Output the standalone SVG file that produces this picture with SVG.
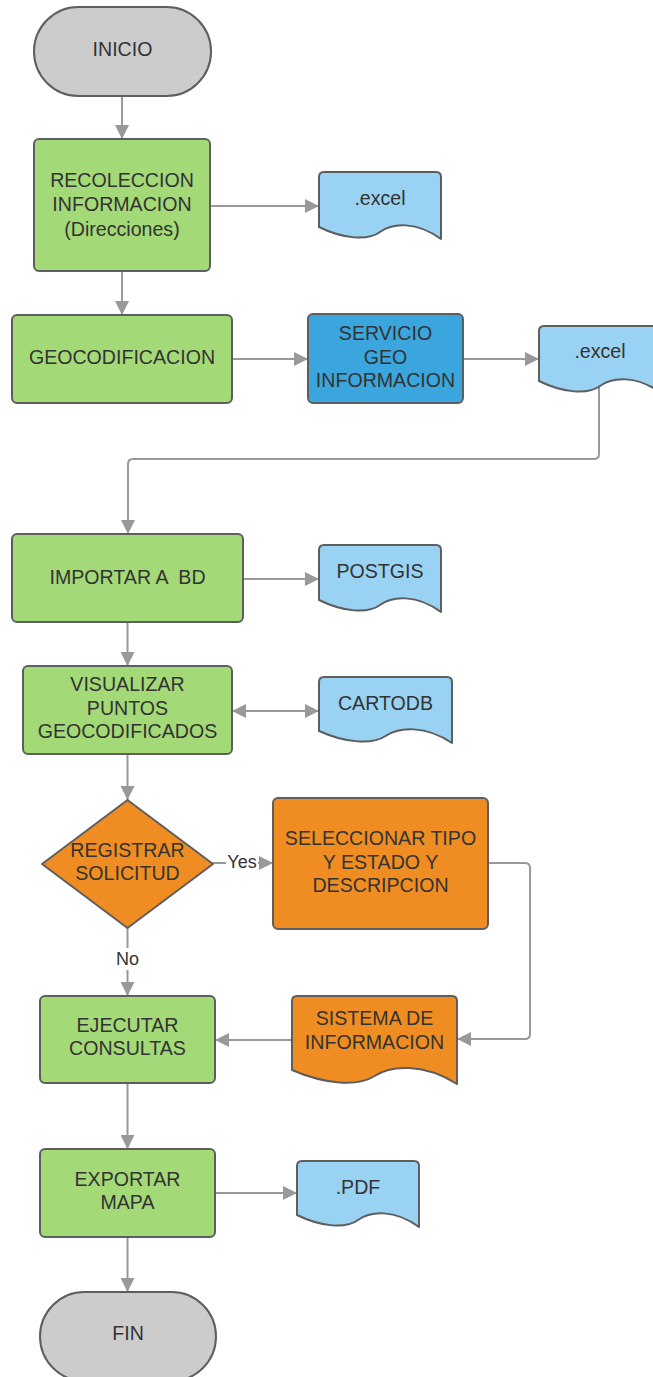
<svg xmlns="http://www.w3.org/2000/svg" width="653" height="1377" viewBox="0 0 653 1377">
  <defs>
    <style>
      .box { stroke: #5e5e5e; stroke-width: 2; stroke-linejoin: round; }
      .green { fill: #a3d977; }
      .grey { fill: #cccccc; }
      .doc { fill: #99d2f2; }
      .blue { fill: #3aa6dd; }
      .orange { fill: #ef8d22; }
      .lbl { font-family: "Liberation Sans", Arial, sans-serif; font-size: 19.6px; fill: #333333; text-anchor: middle; }
      .edge-lbl { font-family: "Liberation Sans", Arial, sans-serif; font-size: 18px; fill: #333333; text-anchor: middle; }
      .wire { fill: none; stroke: #999999; stroke-width: 2; }
    </style>
    <marker id="arrow" markerUnits="userSpaceOnUse" markerWidth="14" markerHeight="14" refX="14" refY="7" orient="auto-start-reverse">
      <path d="M0,0 L14,7 L0,14 Z" fill="#999999"/>
    </marker>
  </defs>

  <rect width="653" height="1377" fill="#ffffff"/>

  <!-- connectors -->
  <g id="connectors">
    <path class="wire" d="M122,96 V139" marker-end="url(#arrow)"/>
    <path class="wire" d="M210,206 H319" marker-end="url(#arrow)"/>
    <path class="wire" d="M122,271 V315" marker-end="url(#arrow)"/>
    <path class="wire" d="M232,359 H308" marker-end="url(#arrow)"/>
    <path class="wire" d="M463,359 H539" marker-end="url(#arrow)"/>
    <path class="wire" d="M599,387 V454 Q599,459 594,459 H133 Q128,459 128,464 V534" marker-end="url(#arrow)"/>
    <path class="wire" d="M243,579 H319" marker-end="url(#arrow)"/>
    <path class="wire" d="M127.5,622 V666" marker-end="url(#arrow)"/>
    <path class="wire" d="M232,711 H319" marker-start="url(#arrow)" marker-end="url(#arrow)"/>
    <path class="wire" d="M127.5,754 V800" marker-end="url(#arrow)"/>
    <path class="wire" d="M213,863 H273" marker-end="url(#arrow)"/>
    <path class="wire" d="M127.5,928 V996" marker-end="url(#arrow)"/>
    <path class="wire" d="M488,863 H525 Q530,863 530,868 V1034 Q530,1039 525,1039 H457" marker-end="url(#arrow)"/>
    <path class="wire" d="M292,1040 H215" marker-end="url(#arrow)"/>
    <path class="wire" d="M127.5,1083 V1149" marker-end="url(#arrow)"/>
    <path class="wire" d="M215,1193 H297" marker-end="url(#arrow)"/>
    <path class="wire" d="M127.5,1237 V1292" marker-end="url(#arrow)"/>
    <!-- edge labels -->
    <rect x="226" y="852" width="32" height="21" fill="#ffffff"/>
    <text class="edge-lbl" x="242" y="868">Yes</text>
    <rect x="114" y="948" width="27" height="22" fill="#ffffff"/>
    <text class="edge-lbl" x="127.5" y="965">No</text>
  </g>

  <g id="inicio">
    <rect class="box grey" x="34" y="7" width="177" height="89" rx="44.5"/>
    <text class="lbl" x="122.5" y="56">INICIO</text>
  </g>

  <g id="recoleccion">
    <rect class="box green" x="34" y="139" width="176" height="132" rx="5"/>
    <text class="lbl" x="122" y="187">RECOLECCION</text>
    <text class="lbl" x="122" y="211">INFORMACION</text>
    <text class="lbl" x="122" y="236">(Direcciones)</text>
  </g>

  <g id="excel-1">
    <path class="box doc" d="M324,172 Q319,172 319,177 V227 C343.4,239 367.8,241 380,232 C392.2,223 416.6,221 441,239 V177 Q441,172 436,172 Z"/>
    <text class="lbl" x="380" y="205">.excel</text>
  </g>

  <g id="geocodificacion">
    <rect class="box green" x="12" y="315" width="220" height="88" rx="5"/>
    <text class="lbl" x="122" y="364">GEOCODIFICACION</text>
  </g>

  <g id="servicio">
    <rect class="box blue" x="308" y="314" width="155" height="89" rx="5"/>
    <text class="lbl" x="385.5" y="340">SERVICIO</text>
    <text class="lbl" x="385.5" y="364">GEO</text>
    <text class="lbl" x="385.5" y="387">INFORMACION</text>
  </g>

  <g id="excel-2">
    <path class="box doc" d="M544,326 Q539,326 539,331 V381 C563.4,393 587.8,395 600,386 C612.2,377 636.6,375 661,393 V331 Q661,326 656,326 Z"/>
    <text class="lbl" x="600" y="358">.excel</text>
  </g>

  <g id="importar">
    <rect class="box green" x="12" y="534" width="231" height="88" rx="5"/>
    <text class="lbl" x="127.5" y="584" xml:space="preserve">IMPORTAR A  BD</text>
  </g>

  <g id="postgis">
    <path class="box doc" d="M324,545 Q319,545 319,550 V600 C343.4,612 367.8,614 380,605 C392.2,596 416.6,594 441,612 V550 Q441,545 436,545 Z"/>
    <text class="lbl" x="380" y="578">POSTGIS</text>
  </g>

  <g id="visualizar">
    <rect class="box green" x="23" y="666" width="209" height="88" rx="5"/>
    <text class="lbl" x="127.5" y="691">VISUALIZAR</text>
    <text class="lbl" x="127.5" y="715">PUNTOS</text>
    <text class="lbl" x="127.5" y="738">GEOCODIFICADOS</text>
  </g>

  <g id="cartodb">
    <path class="box doc" d="M324,677 Q319,677 319,682 V731 C345.6,743 372.2,745 385.5,736 C398.8,727 425.4,725 452,743 V682 Q452,677 447,677 Z"/>
    <text class="lbl" x="385.5" y="710">CARTODB</text>
  </g>

  <g id="registrar">
    <path class="box orange" d="M127.5,800 L213,864 L127.5,928 L42,864 Z"/>
    <text class="lbl" x="127.5" y="857">REGISTRAR</text>
    <text class="lbl" x="127.5" y="880">SOLICITUD</text>
  </g>

  <g id="seleccionar">
    <rect class="box orange" x="273" y="798" width="215" height="131" rx="5"/>
    <text class="lbl" x="380.5" y="845">SELECCIONAR TIPO</text>
    <text class="lbl" x="380.5" y="869">Y ESTADO Y</text>
    <text class="lbl" x="380.5" y="892">DESCRIPCION</text>
  </g>

  <g id="sistema">
    <path class="box orange" d="M297,996 Q292,996 292,1001 V1070 C325,1084.4 358,1086.8 374.5,1076 C391,1065 424,1063 457,1084 V1001 Q457,996 452,996 Z"/>
    <text class="lbl" x="374.5" y="1025">SISTEMA DE</text>
    <text class="lbl" x="374.5" y="1049">INFORMACION</text>
  </g>

  <g id="ejecutar">
    <rect class="box green" x="40" y="996" width="175" height="87" rx="5"/>
    <text class="lbl" x="127.5" y="1032">EJECUTAR</text>
    <text class="lbl" x="127.5" y="1055">CONSULTAS</text>
  </g>

  <g id="exportar">
    <rect class="box green" x="40" y="1149" width="175" height="88" rx="5"/>
    <text class="lbl" x="127.5" y="1186">EXPORTAR</text>
    <text class="lbl" x="127.5" y="1209">MAPA</text>
  </g>

  <g id="pdf">
    <path class="box doc" d="M302,1161 Q297,1161 297,1166 V1215 C321.4,1227 345.8,1229 358,1220 C370.2,1211 394.6,1209 419,1227 V1166 Q419,1161 414,1161 Z"/>
    <text class="lbl" x="358" y="1194">.PDF</text>
  </g>

  <g id="fin">
    <rect class="box grey" x="40" y="1292" width="176" height="89" rx="44.5"/>
    <text class="lbl" x="128" y="1340">FIN</text>
  </g>
</svg>
